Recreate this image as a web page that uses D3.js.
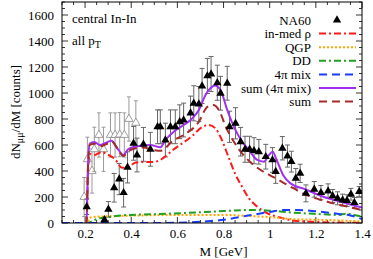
<!DOCTYPE html>
<html>
<head>
  <meta charset="utf-8">
  <script src="https://d3js.org/d3.v7.min.js"></script>
  <style>
    body { margin: 0; background: #fff; }
    svg text { font-family: "Liberation Serif", "DejaVu Serif", serif; font-size: 13px; fill: #000; }
    .line { fill: none; stroke-width: 2px; }
  </style>
</head>
<body>
  <script>
    // NA60 data (filled triangles): mass [GeV], counts, error
    const na60Mass = [0.207, 0.284, 0.301, 0.326, 0.348, 0.367, 0.384, 0.41, 0.425, 0.453, 0.483, 0.514, 0.526,
      0.548, 0.57, 0.591, 0.61, 0.627, 0.657, 0.671, 0.693, 0.707, 0.73, 0.746, 0.773, 0.787, 0.816, 0.826,
      0.852, 0.874, 0.893, 0.913, 0.932, 0.953, 0.983, 1.012, 1.026, 1.055, 1.077, 1.094, 1.113, 1.132,
      1.157, 1.193, 1.222, 1.253, 1.273, 1.294, 1.316, 1.335, 1.352, 1.367, 1.388];
    const na60Value = [125, 25, 105, 271, 338, 233, 428, 613, 523, 605, 567, 740, 740,
      638, 740, 740, 779, 792, 846, 921, 915, 1054, 1131, 1146, 1079, 998, 1075, 740,
      767, 625, 567, 567, 556, 548, 510, 485, 395, 575, 515, 472, 344, 382,
      228, 259, 233, 246, 208, 190, 177, 172, 221, 156, 241];
    const na60Err = [60, 20, 60, 110, 120, 110, 120, 130, 130, 130, 130, 130, 130,
      130, 130, 130, 130, 130, 130, 135, 135, 135, 135, 135, 135, 130, 130, 120,
      120, 110, 100, 100, 100, 95, 95, 95, 90, 90, 85, 80, 75, 70,
      65, 60, 55, 55, 50, 50, 45, 45, 45, 40, 40];

    // open triangles (low-mass points)
    const openMass = [0.196, 0.21, 0.23, 0.24, 0.26, 0.28, 0.31, 0.33, 0.35, 0.37, 0.39, 0.42];
    const openValue = [200, 490, 400, 567, 677, 567, 677, 677, 680, 677, 800, 770];
    const openErr = [150, 170, 170, 170, 170, 170, 170, 170, 170, 170, 170, 170];

    // model curves: [mass, counts]
    const rhoCurve = [[0.2,0],[0.206,0],[0.213,400],[0.22,530],[0.24,523],[0.27,545],[0.30,525],[0.33,490],
      [0.36,425],[0.385,430],[0.42,465],[0.46,470],[0.5,470],[0.52,480],[0.59,574],[0.66,663],[0.71,740],
      [0.735,754],[0.765,728],[0.79,650],[0.82,515],[0.85,380],[0.88,280],[0.91,190],[0.94,135],[0.99,75],
      [1.04,44],[1.1,20],[1.2,8],[1.3,3],[1.4,1]];
    const qgpCurve = [[0.2,0],[0.21,0],[0.22,40],[0.25,48],[0.35,54],[0.6,62],[0.8,62],[0.9,55],[1.0,45],
      [1.1,30],[1.2,25],[1.3,20],[1.4,12]];
    const ddCurve = [[0.2,0],[0.21,0],[0.22,5],[0.25,30],[0.3,45],[0.37,60],[0.5,68],[0.65,78],[0.8,92],
      [0.92,100],[1.0,95],[1.1,80],[1.2,70],[1.3,62],[1.33,72],[1.36,65],[1.4,48]];
    const mixCurve = [[0.1,0],[0.5,0],[0.6,2],[0.7,10],[0.8,25],[0.9,55],[1.0,85],[1.06,100],[1.12,100],
      [1.2,90],[1.3,70],[1.35,58],[1.4,30]];
    const sum4piCurve = [[0.2,0],[0.206,0],[0.213,450],[0.22,610],[0.24,623],[0.264,600],[0.286,613],
      [0.314,633],[0.343,567],[0.365,523],[0.387,567],[0.416,587],[0.44,595],[0.483,600],[0.526,582],
      [0.548,638],[0.584,702],[0.627,754],[0.657,792],[0.693,869],[0.722,985],[0.743,1036],[0.762,1058],
      [0.787,1023],[0.816,869],[0.845,740],[0.881,625],[0.91,561],[0.946,485],[0.975,472],[0.995,520],
      [1.013,548],[1.03,485],[1.058,370],[1.09,305],[1.15,262],[1.22,210],[1.29,172],[1.35,142],[1.4,118]];
    const sumCurve = [[0.2,0],[0.206,0],[0.213,450],[0.22,600],[0.24,610],[0.265,590],[0.29,605],
      [0.315,625],[0.345,560],[0.365,515],[0.39,555],[0.42,575],[0.45,580],[0.5,560],[0.526,555],
      [0.584,638],[0.627,677],[0.693,779],[0.73,894],[0.755,908],[0.78,869],[0.81,740],[0.845,625],
      [0.88,536],[0.94,433],[1.0,369],[1.03,340],[1.09,279],[1.16,215],[1.25,164],[1.34,125],[1.4,100]];

    const xTicks = [0.2, 0.4, 0.6, 0.8, 1.0, 1.2, 1.4];
    const xTickLabels = ["0.2", "0.4", "0.6", "0.8", "1", "1.2", "1.4"];
    const yTicks = [0, 200, 400, 600, 800, 1000, 1200, 1400, 1600];

    const series = [
      { name: "in-med \u03c1", data: rhoCurve, color: "#ff1a1a", dash: "7,3,2,3" },
      { name: "QGP", data: qgpCurve, color: "#ffa500", dash: "2,2" },
      { name: "DD", data: ddCurve, color: "#22a022", dash: "7,3,2,3" },
      { name: "4\u03c0 mix", data: mixCurve, color: "#1a3cff", dash: "8,5" },
      { name: "sum (4\u03c0 mix)", data: sum4piCurve, color: "#a030f0", dash: null },
      { name: "sum", data: sumCurve, color: "#a52a2a", dash: "8,5" }
    ];

    const width = 373, height = 259;
    const margin = { top: 2, right: 11, bottom: 36, left: 62 };
    const iw = width - margin.left - margin.right;
    const ih = height - margin.top - margin.bottom;

    const x = d3.scaleLinear().domain([0.1, 1.4]).range([0, iw]);
    const y = d3.scaleLinear().domain([0, 1700]).range([ih, 0]);

    const svg = d3.select("body").append("svg")
      .attr("width", width)
      .attr("height", height);
    const g = svg.append("g").attr("transform", `translate(${margin.left},${margin.top})`);

    svg.append("defs").append("clipPath").attr("id", "clip")
      .append("rect").attr("width", iw).attr("height", ih);

    // ticks (inside, on all four sides)
    const xMinor = d3.range(0.1, 1.401, 0.05);
    const yMinor = d3.range(0, 1701, 50);
    const tk = g.append("g").attr("stroke", "#000").attr("stroke-width", 0.8);
    xMinor.forEach(v => {
      const major = xTicks.some(t => Math.abs(t - v) < 1e-6);
      const len = major ? 6 : 3;
      tk.append("line").attr("x1", x(v)).attr("x2", x(v)).attr("y1", ih).attr("y2", ih - len);
      tk.append("line").attr("x1", x(v)).attr("x2", x(v)).attr("y1", 0).attr("y2", len);
    });
    yMinor.forEach(v => {
      const major = v % 200 === 0;
      const len = major ? 6 : 3;
      tk.append("line").attr("y1", y(v)).attr("y2", y(v)).attr("x1", 0).attr("x2", len);
      tk.append("line").attr("y1", y(v)).attr("y2", y(v)).attr("x1", iw).attr("x2", iw - len);
    });

    // tick labels via d3 axes
    const xAxis = g.append("g").attr("transform", `translate(0,${ih})`)
      .call(d3.axisBottom(x).tickValues(xTicks).tickSize(0).tickPadding(6)
        .tickFormat((d, i) => xTickLabels[i]));
    const yAxis = g.append("g")
      .call(d3.axisLeft(y).tickValues(yTicks).tickSize(0).tickPadding(8).tickFormat(d3.format("d")));
    [xAxis, yAxis].forEach(a => {
      a.attr("font-family", null).attr("font-size", null);
      a.select(".domain").remove();
    });

    const plot = g.append("g").attr("clip-path", "url(#clip)");

    // open triangles with error bars
    const sym = d3.symbol().type(d3.symbolTriangle).size(30);
    const openG = plot.append("g");
    openMass.forEach((m, i) => {
      const cx = x(m), cy = y(openValue[i]);
      const y1 = y(openValue[i] + openErr[i]), y2 = y(Math.max(0, openValue[i] - openErr[i]));
      openG.append("line").attr("x1", cx).attr("x2", cx).attr("y1", y1).attr("y2", y2)
        .attr("stroke", "#999").attr("stroke-width", 1);
      [y1, y2].forEach(yy => openG.append("line").attr("x1", cx - 2).attr("x2", cx + 2)
        .attr("y1", yy).attr("y2", yy).attr("stroke", "#999").attr("stroke-width", 1));
      openG.append("path").attr("d", sym).attr("transform", `translate(${cx},${cy})`)
        .attr("fill", "#fff").attr("stroke", "#888").attr("stroke-width", 0.8);
    });

    // NA60 error bars
    const errG = plot.append("g");
    na60Mass.forEach((m, i) => {
      const cx = x(m);
      const y1 = y(na60Value[i] + na60Err[i]), y2 = y(Math.max(0, na60Value[i] - na60Err[i]));
      errG.append("line").attr("x1", cx).attr("x2", cx).attr("y1", y1).attr("y2", y2)
        .attr("stroke", "#666").attr("stroke-width", 1);
      [y1, y2].forEach(yy => errG.append("line").attr("x1", cx - 2.5).attr("x2", cx + 2.5)
        .attr("y1", yy).attr("y2", yy).attr("stroke", "#666").attr("stroke-width", 1));
    });

    // model curves
    const line = d3.line().x(d => x(d[0])).y(d => y(d[1])).curve(d3.curveMonotoneX);
    series.forEach(s => {
      plot.append("path").datum(s.data).attr("class", "line").attr("d", line)
        .attr("stroke", s.color).attr("stroke-dasharray", s.dash);
    });

    // NA60 markers on top
    plot.append("g").selectAll("path").data(na60Mass).join("path")
      .attr("d", sym)
      .attr("transform", (m, i) => `translate(${x(m)},${y(na60Value[i])})`)
      .attr("fill", "#000");

    // frame
    g.append("rect").attr("width", iw).attr("height", ih)
      .attr("fill", "none").attr("stroke", "#000").attr("stroke-width", 1);

    // legend
    const leg = g.append("g");
    const lx = 311 - margin.left, ly0 = 20 - margin.top, dy = 13.6;
    leg.append("text").attr("x", lx).attr("y", ly0).attr("dy", "0.35em").attr("text-anchor", "end").text("NA60");
    leg.append("path").attr("d", sym).attr("transform", `translate(${337 - margin.left},${ly0})`).attr("fill", "#000");
    series.forEach((s, i) => {
      const yy = ly0 + dy * (i + 1);
      leg.append("text").attr("x", lx).attr("y", yy).attr("dy", "0.35em").attr("text-anchor", "end").text(s.name);
      leg.append("line").attr("x1", lx + 8).attr("x2", lx + 45).attr("y1", yy).attr("y2", yy)
        .attr("stroke", s.color).attr("stroke-width", 2).attr("stroke-dasharray", s.dash);
    });

    // annotations
    g.append("text").attr("x", 72 - margin.left).attr("y", 23 - margin.top).text("central In-In");
    const pt = g.append("text").attr("x", 72 - margin.left).attr("y", 45 - margin.top);
    pt.append("tspan").text("all p");
    pt.append("tspan").attr("font-size", 10).attr("dy", 3).text("T");

    // axis titles
    svg.append("text").attr("x", margin.left + x(0.8)).attr("y", 256).attr("text-anchor", "middle").text("M [GeV]");
    const yl = svg.append("text").attr("transform", "translate(20,112) rotate(-90)").attr("text-anchor", "middle");
    yl.append("tspan").text("dN");
    yl.append("tspan").attr("font-size", 10).attr("dy", 3).text("\u03bc\u03bc");
    yl.append("tspan").attr("dy", -3).text("/dM [counts]");
  </script>
</body>
</html>
